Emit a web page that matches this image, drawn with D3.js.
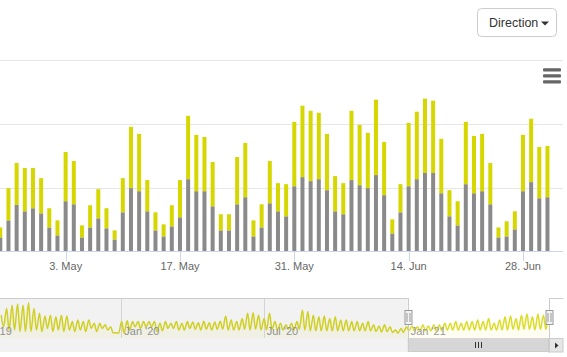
<!DOCTYPE html>
<html><head><meta charset="utf-8">
<script src="https://cdn.jsdelivr.net/npm/d3@7"></script>
<style>
body{margin:0;background:#fff;}
svg{display:block;font-family:"Liberation Sans",Arial,Helvetica,sans-serif;}
</style>
</head><body>
<svg id="c" width="567" height="357"></svg>
<script>
// ---------- DATA ----------
const firstDay = "2021-04-25";
const grayVals = [11.4,24.7,36.8,31.8,34.2,30.2,19.2,13.0,39.7,37.3,
  11.4,19.2,26.3,18.5,9.8,31.0,49.9,47.5,31.8,16.9,
  12.2,20.0,27.1,56.9,47.5,47.5,35.7,16.9,16.9,37.3,
  42.8,12.2,19.2,38.1,31.8,27.9,51.4,58.5,55.4,56.9,
  48.3,31.8,29.5,56.2,52.2,49.9,60.1,44.4,14.5,31.0,
  51.4,56.9,61.7,61.7,45.9,27.9,20.8,53.0,45.9,47.5,
  37.3,11.4,12.2,17.7,47.5,54.6,42.0,42.8];
const yellowVals = [7.8,25.2,32.7,33.8,31.4,27.5,15.0,11.7,38.4,33.8,
  9.4,17.3,22.8,15.7,7.1,26.7,47.9,44.8,24.4,14.1,
  9.4,16.5,29.1,49.5,44.0,42.4,34.6,12.6,12.6,36.9,
  42.4,12.5,18.1,33.0,22.0,25.1,50.3,55.8,54.9,51.9,
  44.0,27.5,24.3,54.1,47.1,43.2,58.9,41.6,11.0,22.0,
  49.5,52.7,58.1,56.5,42.5,20.4,18.9,48.7,44.8,44.8,
  32.2,7.8,11.8,14.1,44.0,49.5,40.1,40.1];
const xTickDates = ["2021-05-03","2021-05-17","2021-05-31","2021-06-14","2021-06-28"];
const xTickLabels = ["3. May","17. May","31. May","14. Jun","28. Jun"];
const yTicks = [50,100,150];

const navTickDates = ["2019-07-01","2020-01-01","2020-07-01","2021-01-01"];
const navTickLabels = ["Jul '19","Jan '20","Jul '20","Jan '21"];
const navWeekStart = "2019-07-29";
const navHigh = [57,74,82,85,82,88,74,62,55,57,53,57,55,41,45,41,45,37,37,33,
  28,13,41,43,41,41,41,41,41,37,41,37,41,37,41,40,38,42,38,40,
  42,55,45,41,49,62,63,57,49,62,41,37,33,37,41,70,66,57,53,55,
  49,53,45,45,41,41,37,41,33,30,33,28,20,24,28,30,28,33,30,33,
  33,37,37,41,37,41,41,45,41,49,37,45,53,55,49,57,60,53,60,57,53];
const navLow = [28,20,20,16,16,16,20,16,24,16,20,16,20,16,20,16,24,16,24,20,
  13,12,12,20,28,24,28,28,16,18,24,24,20,20,24,22,20,22,20,22,
  22,20,20,20,22,20,22,20,20,22,20,20,22,20,22,20,18,18,18,18,
  18,18,18,18,18,18,18,18,16,15,16,14,12,14,18,18,18,18,18,18,
  18,20,20,20,20,20,20,20,20,20,20,20,20,22,20,22,22,20,22,22,22];
const navSelection = ["2021-01-01","2021-06-30"];

// ---------- SETUP ----------
const P = d3.utcParse("%Y-%m-%d");
const svg = d3.select("#c");
const gray = "#8a8a8a", yellow = "#d6d600";

const plot = {left:0, right:563, top:59, bottom:252};
const x = d3.scaleUtc().domain([P("2021-04-25"), P("2021-07-03")]).range([0.3, 563.8]);
const y = d3.scaleLinear().domain([0,150]).range([252,60]);

const days = grayVals.map((_, i) => d3.utcDay.offset(P(firstDay), i));
const stackData = days.map((d, i) => ({date:d, gray:grayVals[i], yellow:yellowVals[i]}));
const series = d3.stack().keys(["gray","yellow"])(stackData);

// ---------- TOP BUTTON ----------
const btn = svg.append("g");
btn.append("rect").attr("x",477.5).attr("y",8.5).attr("width",79).attr("height",28)
  .attr("rx",4).attr("fill","#fff").attr("stroke","#cccccc");
btn.append("text").attr("x",489).attr("y",27).attr("font-size",12.5).attr("fill","#333")
  .text("Direction");
btn.append("path").attr("d","M541,21.5 L549,21.5 L545,25.5 Z").attr("fill","#333");

// ---------- GRID ----------
svg.append("defs").append("clipPath").attr("id","pc")
  .append("rect").attr("x",plot.left).attr("y",plot.top).attr("width",plot.right-plot.left).attr("height",plot.bottom-plot.top);

svg.append("g").selectAll("line").data(yTicks).join("line")
  .attr("x1",0).attr("x2",plot.right)
  .attr("y1",d=>Math.round(y(d))+0.5).attr("y2",d=>Math.round(y(d))+0.5)
  .attr("stroke","#e6e6e6").attr("stroke-width",1);

// ---------- BARS ----------
const barW = 4;
svg.append("g").attr("clip-path","url(#pc)")
  .selectAll("g").data(series).join("g")
  .attr("fill",(s,i)=> i===0 ? gray : yellow)
  .selectAll("rect").data(s=>s).join("rect")
  .attr("x", d => x(d.data.date) - barW/2)
  .attr("width", barW)
  .attr("y", d => y(d[1]))
  .attr("height", d => y(d[0]) - y(d[1]));

// ---------- X AXIS ----------
const xAxis = svg.append("g");
xAxis.append("line").attr("x1",0).attr("x2",plot.right).attr("y1",251.5).attr("y2",251.5)
  .attr("stroke","#ccd6eb");
const tk = xAxis.selectAll("g.t").data(xTickDates).join("g").attr("class","t");
tk.append("line")
  .attr("x1",d=>Math.round(x(P(d)))+0.5).attr("x2",d=>Math.round(x(P(d)))+0.5)
  .attr("y1",251).attr("y2",261).attr("stroke","#ccd6eb");
tk.append("text").attr("x",d=>x(P(d))).attr("y",270).attr("text-anchor","middle")
  .attr("font-size",11).attr("fill","#666666")
  .text((d,i)=>xTickLabels[i]);

// ---------- MENU ICON ----------
const menu = svg.append("g").attr("fill","#666666");
[0,1,2].forEach(k => menu.append("rect").attr("x",543).attr("y",68.3+k*6).attr("width",18).attr("height",3.2).attr("rx",1));

// ---------- NAVIGATOR ----------
const nav = {top:298, bottom:338, left:-30, right:548.5};
const navX = d3.scaleUtc().domain([P("2020-01-01"), P("2021-01-01")]).range([121.3, 407.7]);
const navY = d3.scaleLinear().domain([0,100]).range([338,298]);

const navPts = [];
navHigh.forEach((v, i) => {
  const ws = d3.utcDay.offset(P(navWeekStart), i*7);
  navPts.push({date:d3.utcHour.offset(ws, 2*24+12), v:v});
  navPts.push({date:d3.utcHour.offset(ws, 5*24+12), v:navLow[i]});
});
svg.select("defs").append("clipPath").attr("id","nc")
  .append("rect").attr("x",nav.left).attr("y",nav.top-2).attr("width",nav.right-nav.left).attr("height",nav.bottom-nav.top+2);

// scrollbar track
svg.append("rect").attr("x",-20).attr("y",338).attr("width",583.5).attr("height",14)
  .attr("fill","#f2f2f2");

const navG = svg.append("g").attr("clip-path","url(#nc)");
navG.append("path").datum(navPts)
  .attr("d", d3.area().x(d=>navX(d.date)).y0(nav.bottom).y1(d=>navY(d.v)).curve(d3.curveMonotoneX))
  .attr("fill", yellow).attr("fill-opacity",0.05);
navG.selectAll("line.g").data(navTickDates).join("line").attr("class","g")
  .attr("x1",d=>Math.round(navX(P(d)))+0.5).attr("x2",d=>Math.round(navX(P(d)))+0.5)
  .attr("y1",nav.top).attr("y2",nav.bottom).attr("stroke","#e0e0e0");
navG.append("path").datum(navPts)
  .attr("d", d3.line().x(d=>navX(d.date)).y(d=>navY(d.v)).curve(d3.curveMonotoneX))
  .attr("fill","none").attr("stroke",yellow).attr("stroke-width",1.5).attr("stroke-opacity",0.85);
svg.append("g").selectAll("text").data(navTickDates).join("text")
  .attr("x",d=>navX(P(d))+3).attr("y",334.5).attr("font-size",11).attr("fill","#999999")
  .text((d,i)=>navTickLabels[i]);

// mask (unselected)
const selX0 = navX(P(navSelection[0])), selX1 = navX(P(navSelection[1]));
svg.append("rect").attr("x",nav.left).attr("y",nav.top).attr("width",selX0-nav.left).attr("height",nav.bottom-nav.top)
  .attr("fill","rgba(0,0,0,0.05)");

// scrollbar thumb
const sb = svg.append("g");
sb.append("rect").attr("x",selX0).attr("y",338).attr("width",selX1-selX0).attr("height",14)
  .attr("fill","#d6d6d6");
const mid = (selX0+selX1)/2;
[-3,0,3].forEach(o => sb.append("line").attr("x1",Math.round(mid+o)+0.5).attr("x2",Math.round(mid+o)+0.5)
  .attr("y1",342).attr("y2",348).attr("stroke","#333"));
sb.append("rect").attr("x",548.5).attr("y",338.5).attr("width",14.5).attr("height",13.5)
  .attr("fill","#e6e6e6").attr("stroke","#cccccc");
sb.append("path").attr("d","M555,342.5 L558.5,345.5 L555,348.5 Z").attr("fill","#333");

// outline
svg.append("path")
  .attr("d",`M-20,298.5 H${Math.round(selX0)+0.5} V351.5 H${Math.round(selX1)+0.5} V298.5 H563.5`)
  .attr("fill","none").attr("stroke","#cccccc");

// handles
[selX0, selX1].forEach(hx => {
  const cx = Math.round(hx)+0.5;
  const h = svg.append("g");
  h.append("rect").attr("x",cx-3.5).attr("y",310.5).attr("width",7).attr("height",14)
    .attr("fill","#f2f2f2").attr("stroke","#999999");
  h.append("line").attr("x1",cx-1.5).attr("x2",cx-1.5).attr("y1",313).attr("y2",322).attr("stroke","#999999");
  h.append("line").attr("x1",cx+1.5).attr("x2",cx+1.5).attr("y1",313).attr("y2",322).attr("stroke","#999999");
});
</script>
</body></html>
